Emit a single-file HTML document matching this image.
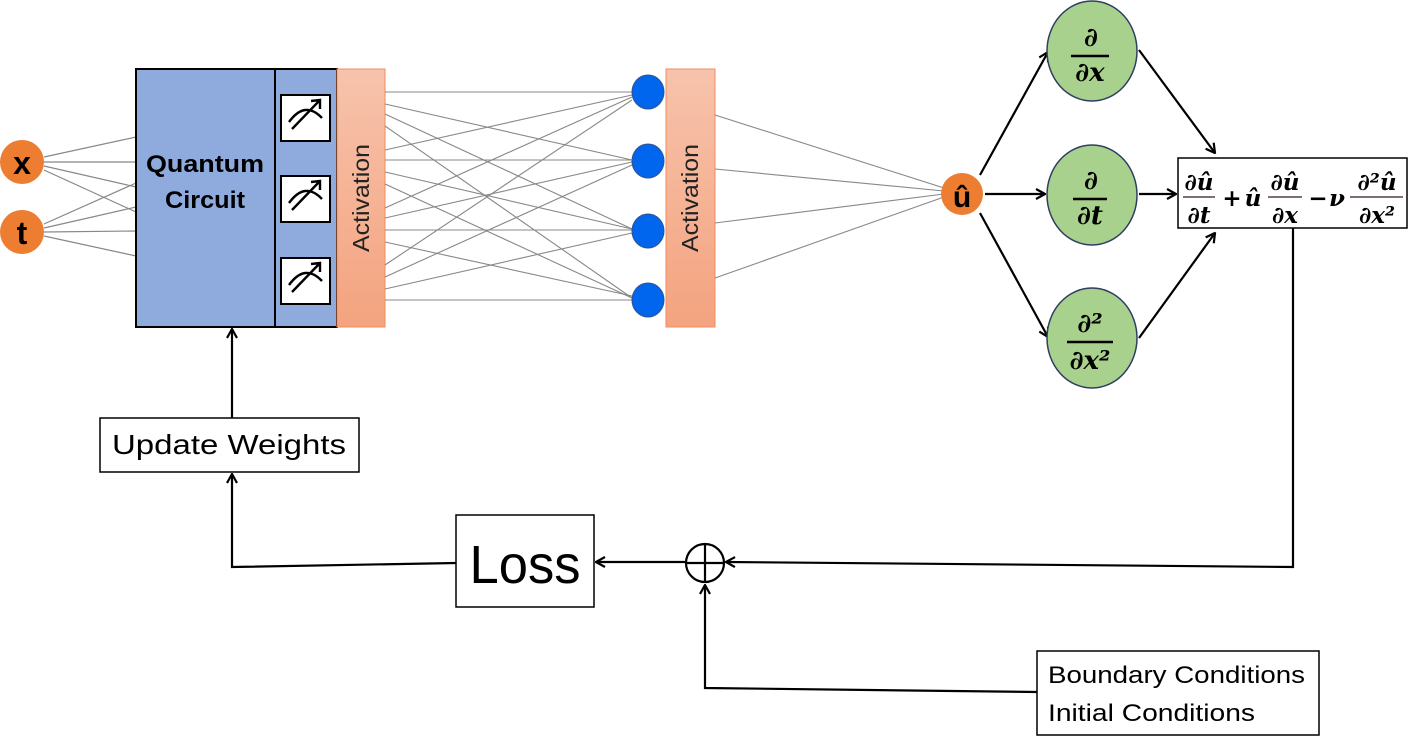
<!DOCTYPE html>
<html><head><meta charset="utf-8"><style>
html,body{margin:0;padding:0;background:#fff;}
svg{display:block;}
</style></head><body>
<svg width="1408" height="736" viewBox="0 0 1408 736" xmlns="http://www.w3.org/2000/svg">
<defs>
<marker id="ah" viewBox="0 0 12 12" refX="11" refY="6" markerWidth="12" markerHeight="12" markerUnits="userSpaceOnUse" orient="auto">
<polyline points="2,1 11,6 2,11" fill="none" stroke="#000" stroke-width="2.2"/>
</marker>
<linearGradient id="act" x1="0" y1="0" x2="0" y2="1"><stop offset="0" stop-color="#f7c3ac"/><stop offset="1" stop-color="#f4a37f"/></linearGradient>
</defs>
<g stroke="#888" stroke-width="1.2">
<line x1="44" y1="157" x2="136" y2="137"/>
<line x1="44" y1="162" x2="136" y2="162"/>
<line x1="44" y1="166" x2="136" y2="187"/>
<line x1="44" y1="170" x2="136" y2="212"/>
<line x1="44" y1="224" x2="136" y2="183"/>
<line x1="44" y1="228" x2="136" y2="207"/>
<line x1="44" y1="232" x2="136" y2="231"/>
<line x1="44" y1="236" x2="136" y2="256"/>
</g>
<circle cx="22" cy="162" r="22" fill="#ed7d31"/>
<circle cx="22" cy="232" r="22" fill="#ed7d31"/>
<text x="22" y="174" font-family="Liberation Sans,sans-serif" font-weight="bold" font-size="32" text-anchor="middle">x</text>
<text x="22" y="244" font-family="Liberation Sans,sans-serif" font-weight="bold" font-size="32" text-anchor="middle">t</text>
<rect x="136" y="69" width="139" height="258" fill="#8faadc" stroke="#000" stroke-width="2"/>
<rect x="275" y="69" width="62" height="258" fill="#8faadc" stroke="#000" stroke-width="2"/>
<text x="205" y="172" font-family="Liberation Sans,sans-serif" font-weight="bold" font-size="24" text-anchor="middle" textLength="118" lengthAdjust="spacingAndGlyphs">Quantum</text>
<text x="205" y="208" font-family="Liberation Sans,sans-serif" font-weight="bold" font-size="24" text-anchor="middle" textLength="80" lengthAdjust="spacingAndGlyphs">Circuit</text>
<g stroke="#000" stroke-width="2" fill="#fff">
<rect x="281" y="95" width="49" height="46"/>
<rect x="281" y="176" width="49" height="46"/>
<rect x="281" y="258" width="49" height="46"/>
</g>
<g fill="none" stroke="#000" stroke-width="2.4">
<path d="M289,122 Q305,100 322,118"/><path d="M292,129 L320,100 M311,101 L320,100 L320,109"/>
<path d="M289,203 Q305,181 322,199"/><path d="M292,210 L320,181 M311,182 L320,181 L320,190"/>
<path d="M289,285 Q305,263 322,281"/><path d="M292,292 L320,263 M311,264 L320,263 L320,272"/>
</g>
<rect x="337" y="69" width="48" height="258" fill="url(#act)" stroke="#f08c5c" stroke-width="1"/>
<text transform="translate(369,198) rotate(-90)" font-family="Liberation Sans,sans-serif" font-size="23" text-anchor="middle" fill="#222" textLength="108" lengthAdjust="spacingAndGlyphs">Activation</text>
<g stroke="#888" stroke-width="1.1">
<line x1="385" y1="92" x2="632" y2="92"/><line x1="385" y1="104" x2="632" y2="160"/><line x1="385" y1="114" x2="632" y2="229"/><line x1="385" y1="126" x2="632" y2="298"/>
<line x1="385" y1="150" x2="632" y2="95"/><line x1="385" y1="160" x2="632" y2="160"/><line x1="385" y1="172" x2="632" y2="229"/><line x1="385" y1="184" x2="632" y2="298"/>
<line x1="385" y1="208" x2="632" y2="97"/><line x1="385" y1="218" x2="632" y2="162"/><line x1="385" y1="230" x2="632" y2="230"/><line x1="385" y1="242" x2="632" y2="296"/>
<line x1="385" y1="265" x2="632" y2="100"/><line x1="385" y1="277" x2="632" y2="165"/><line x1="385" y1="289" x2="632" y2="233"/><line x1="385" y1="300" x2="632" y2="300"/>
</g>
<g fill="#0066ee" stroke="#2f528f" stroke-width="1">
<ellipse cx="648" cy="92" rx="16" ry="17"/><ellipse cx="648" cy="161" rx="16" ry="17"/>
<ellipse cx="648" cy="231" rx="16" ry="17"/><ellipse cx="648" cy="300" rx="16" ry="17"/>
</g>
<rect x="666" y="69" width="49" height="258" fill="url(#act)" stroke="#f08c5c" stroke-width="1"/>
<text transform="translate(698,198) rotate(-90)" font-family="Liberation Sans,sans-serif" font-size="23" text-anchor="middle" fill="#222" textLength="108" lengthAdjust="spacingAndGlyphs">Activation</text>
<g stroke="#888" stroke-width="1.1">
<line x1="715" y1="115" x2="944" y2="188"/><line x1="715" y1="169" x2="944" y2="191"/>
<line x1="715" y1="223" x2="944" y2="194"/><line x1="715" y1="278" x2="944" y2="197"/>
</g>
<circle cx="962" cy="194" r="21" fill="#ed7d31"/>
<text x="962" y="207" font-family="Liberation Sans,sans-serif" font-weight="bold" font-size="30" text-anchor="middle">û</text>
<g stroke="#000" stroke-width="2.2" fill="none">
<line x1="980" y1="175" x2="1048" y2="52" marker-end="url(#ah)"/>
<line x1="985" y1="194" x2="1045" y2="194" marker-end="url(#ah)"/>
<line x1="980" y1="213" x2="1048" y2="337" marker-end="url(#ah)"/>
<line x1="1139" y1="50" x2="1215" y2="153" marker-end="url(#ah)"/>
<line x1="1139" y1="194" x2="1176" y2="194" marker-end="url(#ah)"/>
<line x1="1139" y1="338" x2="1215" y2="233" marker-end="url(#ah)"/>
</g>
<g fill="#a9d18e" stroke="#2f3f5f" stroke-width="1.5">
<ellipse cx="1092" cy="51" rx="45" ry="50"/>
<ellipse cx="1092" cy="195" rx="45" ry="50"/>
<ellipse cx="1092" cy="338" rx="45" ry="50"/>
</g>
<g font-family="DejaVu Serif,serif" font-weight="bold" font-style="italic" font-size="26" text-anchor="middle" fill="#000">
<text x="1091" y="46">∂</text><line x1="1071" y1="56" x2="1109" y2="56" stroke="#000" stroke-width="2.5"/><text x="1090" y="81">∂x</text>
<text x="1091" y="189">∂</text><line x1="1073" y1="199" x2="1107" y2="199" stroke="#000" stroke-width="2.5"/><text x="1090" y="224">∂t</text>
<text x="1090" y="332">∂²</text><line x1="1067" y1="342" x2="1113" y2="342" stroke="#000" stroke-width="2.5"/><text x="1090" y="369">∂x²</text>
</g>
<rect x="1178" y="158" width="229" height="70" fill="#fff" stroke="#000" stroke-width="1.5"/>
<g font-family="DejaVu Serif,serif" font-weight="bold" font-style="italic" font-size="23" text-anchor="middle" fill="#000">
<text x="1199" y="190">∂û</text><line x1="1183" y1="197" x2="1215" y2="197" stroke="#7f6f6f" stroke-width="2"/><text x="1199" y="223">∂t</text>
<text x="1232" y="206" font-style="normal">+</text>
<text x="1253" y="206">û</text>
<text x="1285" y="190">∂û</text><line x1="1268" y1="197" x2="1302" y2="197" stroke="#7f6f6f" stroke-width="2"/><text x="1285" y="223">∂x</text>
<text x="1318" y="206" font-style="normal">−</text>
<text x="1337" y="206">ν</text>
<text x="1377" y="190">∂²û</text><line x1="1350" y1="197" x2="1403" y2="197" stroke="#7f6f6f" stroke-width="2"/><text x="1377" y="223">∂x²</text>
</g>
<g stroke="#000" stroke-width="2.2" fill="none">
<polyline points="1293,228 1293,567 726,562" marker-end="url(#ah)"/>
<line x1="685" y1="562" x2="596" y2="562" marker-end="url(#ah)"/>
<polyline points="456,563 232,567 232,474" marker-end="url(#ah)"/>
<line x1="232" y1="418" x2="232" y2="329" marker-end="url(#ah)"/>
<polyline points="1037,692 705,688 705,585" marker-end="url(#ah)"/>
<circle cx="705" cy="563" r="19"/>
<line x1="686" y1="563" x2="724" y2="563"/><line x1="705" y1="544" x2="705" y2="582"/>
</g>
<rect x="456" y="515" width="138" height="92" fill="#fff" stroke="#000" stroke-width="1.5"/>
<text x="525" y="583" font-family="Liberation Sans,sans-serif" font-size="54" text-anchor="middle" textLength="111" lengthAdjust="spacingAndGlyphs">Loss</text>
<rect x="100" y="418" width="259" height="54" fill="#fff" stroke="#000" stroke-width="1.5"/>
<text x="112" y="454" font-family="Liberation Sans,sans-serif" font-size="28" textLength="234" lengthAdjust="spacingAndGlyphs">Update Weights</text>
<rect x="1037" y="651" width="282" height="84" fill="#fff" stroke="#000" stroke-width="1.5"/>
<text x="1048" y="683" font-family="Liberation Sans,sans-serif" font-size="24" textLength="257" lengthAdjust="spacingAndGlyphs">Boundary Conditions</text>
<text x="1048" y="721" font-family="Liberation Sans,sans-serif" font-size="24" textLength="207" lengthAdjust="spacingAndGlyphs">Initial Conditions</text>
</svg>
</body></html>
